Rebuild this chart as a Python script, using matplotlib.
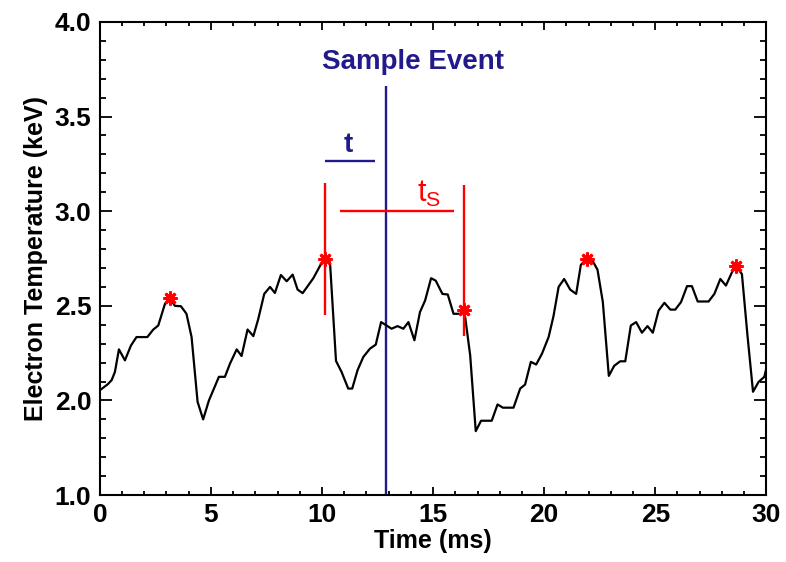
import matplotlib
matplotlib.use("Agg")
import matplotlib.pyplot as plt
from matplotlib.ticker import MultipleLocator

plt.rcParams['font.family'] = ['Liberation Sans', 'DejaVu Sans']
plt.rcParams['mathtext.default'] = 'regular'

# Electron temperature trace (time in ms, Te in keV)
time_ms = [0.00, 0.35, 0.53, 0.68, 0.86, 1.13, 1.40, 1.65, 2.14, 2.40, 2.63, 2.93, 3.15,
           3.38, 3.65, 3.90, 4.13, 4.40, 4.65, 4.91, 5.36, 5.63, 5.86, 6.16, 6.38, 6.65,
           6.91, 7.13, 7.40, 7.66, 7.88, 8.15, 8.41, 8.68, 8.90, 9.13, 9.61, 9.95, 10.14,
           10.36, 10.63, 10.88, 11.18, 11.36, 11.60, 11.86, 12.16, 12.42, 12.66, 12.91,
           13.13, 13.40, 13.66, 13.89, 14.16, 14.41, 14.64, 14.91, 15.12, 15.42, 15.66,
           15.92, 16.22, 16.40, 16.67, 16.92, 17.16, 17.64, 17.90, 18.14, 18.62, 18.92,
           19.14, 19.40, 19.64, 19.90, 20.20, 20.42, 20.65, 20.90, 21.17, 21.44, 21.65,
           21.92, 22.15, 22.40, 22.64, 22.91, 23.15, 23.42, 23.65, 23.90, 24.14, 24.40,
           24.65, 24.89, 25.15, 25.41, 25.68, 25.90, 26.16, 26.43, 26.65, 26.91, 27.40,
           27.66, 27.93, 28.18, 28.45, 28.65, 28.90, 29.15, 29.40, 29.65, 29.91, 30.00]
temp_kev = [2.054, 2.085, 2.107, 2.151, 2.270, 2.212, 2.290, 2.335, 2.335, 2.374, 2.396, 2.510, 2.540,
            2.500, 2.498, 2.458, 2.335, 1.993, 1.900, 2.000, 2.125, 2.125, 2.195, 2.270, 2.235, 2.375,
            2.340, 2.430, 2.563, 2.600, 2.568, 2.663, 2.630, 2.665, 2.586, 2.567, 2.646, 2.720, 2.750,
            2.730, 2.209, 2.151, 2.063, 2.063, 2.160, 2.230, 2.274, 2.295, 2.414, 2.396,
            2.379, 2.393, 2.379, 2.414, 2.318, 2.467, 2.528, 2.646, 2.633, 2.563, 2.560,
            2.458, 2.458, 2.480, 2.238, 1.838, 1.893, 1.893, 1.979, 1.962, 1.962, 2.063,
            2.084, 2.204, 2.190, 2.247, 2.335, 2.446, 2.600, 2.642, 2.586, 2.563, 2.716,
            2.750, 2.744, 2.691, 2.520, 2.130, 2.183, 2.207, 2.207, 2.396, 2.414, 2.358,
            2.393, 2.358, 2.475, 2.516, 2.480, 2.480, 2.520, 2.604, 2.604, 2.523, 2.523,
            2.563, 2.642, 2.607, 2.677, 2.707, 2.668, 2.344, 2.046, 2.098, 2.125, 2.170]

# Sawtooth crash peaks
peak_t = [3.15, 10.14, 16.40, 21.92, 28.65]
peak_te = [2.54, 2.75, 2.48, 2.75, 2.71]

# Annotations
event_t = 12.9
event_top = 3.66
t_bar = [10.14, 12.39]
t_bar_y = 3.265
ts_bar = [10.81, 15.92]
ts_bar_y = 3.0
red_marks_t = [10.14, 16.37]
red_marks_lo = [2.45, 2.34]
red_marks_hi = [3.15, 3.14]

yticks = [1.5, 2.0, 2.5, 3.0, 3.5, 4.0]
yticklabels = ["1.0", "2.0", "2.5", "3.0", "3.5", "4.0"]
xticks = [0, 5, 10, 15, 20, 25, 30]

navy = '#221a8a'
red = '#ff0000'

fig = plt.figure(figsize=(7.86, 5.62), dpi=100)
ax = fig.add_axes([0.127, 0.119, 0.848, 0.842])

ax.plot(time_ms, temp_kev, color='black', lw=1.6, zorder=3)
ax.plot(peak_t, peak_te, linestyle='none', marker=(8, 2, 0), ms=10, mew=2,
        color=red, zorder=4)

ax.vlines(event_t, 1.5, event_top, color=navy, lw=1.7, zorder=2)
ax.hlines(t_bar_y, t_bar[0], t_bar[1], color=navy, lw=1.7)
ax.hlines(ts_bar_y, ts_bar[0], ts_bar[1], color=red, lw=1.7)
for xt, lo, hi in zip(red_marks_t, red_marks_lo, red_marks_hi):
    ax.vlines(xt, lo, hi, color=red, lw=1.7, zorder=5)

ax.text(14.1, 3.79, "Sample Event", color=navy, fontsize=20, fontweight='bold',
        ha='center', va='center')
ax.text(11.2, 3.35, "t", color=navy, fontsize=20, fontweight='bold', ha='center', va='center')
ax.text(14.8, 3.09, r"t$_{S}$", color=red, fontsize=22, ha='center', va='center')

ax.set_xlim(0, 30)
ax.set_ylim(1.5, 4.0)
ax.set_xticks(xticks)
ax.set_xticklabels([str(v) for v in xticks])
ax.set_yticks(yticks)
ax.set_yticklabels(yticklabels)
ax.xaxis.set_minor_locator(MultipleLocator(1))
ax.yaxis.set_minor_locator(MultipleLocator(0.1))

ax.tick_params(axis='both', which='both', direction='in', top=True, right=True,
               width=1.3, labelsize=19)
ax.tick_params(axis='x', which='major', length=5.5, pad=6)
ax.tick_params(axis='x', which='minor', length=2.8)
ax.tick_params(axis='y', which='major', length=8.5, pad=6)
ax.tick_params(axis='y', which='minor', length=4.3)
for lab in ax.get_xticklabels() + ax.get_yticklabels():
    lab.set_fontweight('bold')
for sp in ax.spines.values():
    sp.set_linewidth(1.5)

ax.set_xlabel("Time (ms)", fontsize=18, fontweight='bold', labelpad=1)
ax.set_ylabel("Electron Temperature (keV)", fontsize=18, fontweight='bold', labelpad=5)

fig.savefig("out.png", dpi=100)
